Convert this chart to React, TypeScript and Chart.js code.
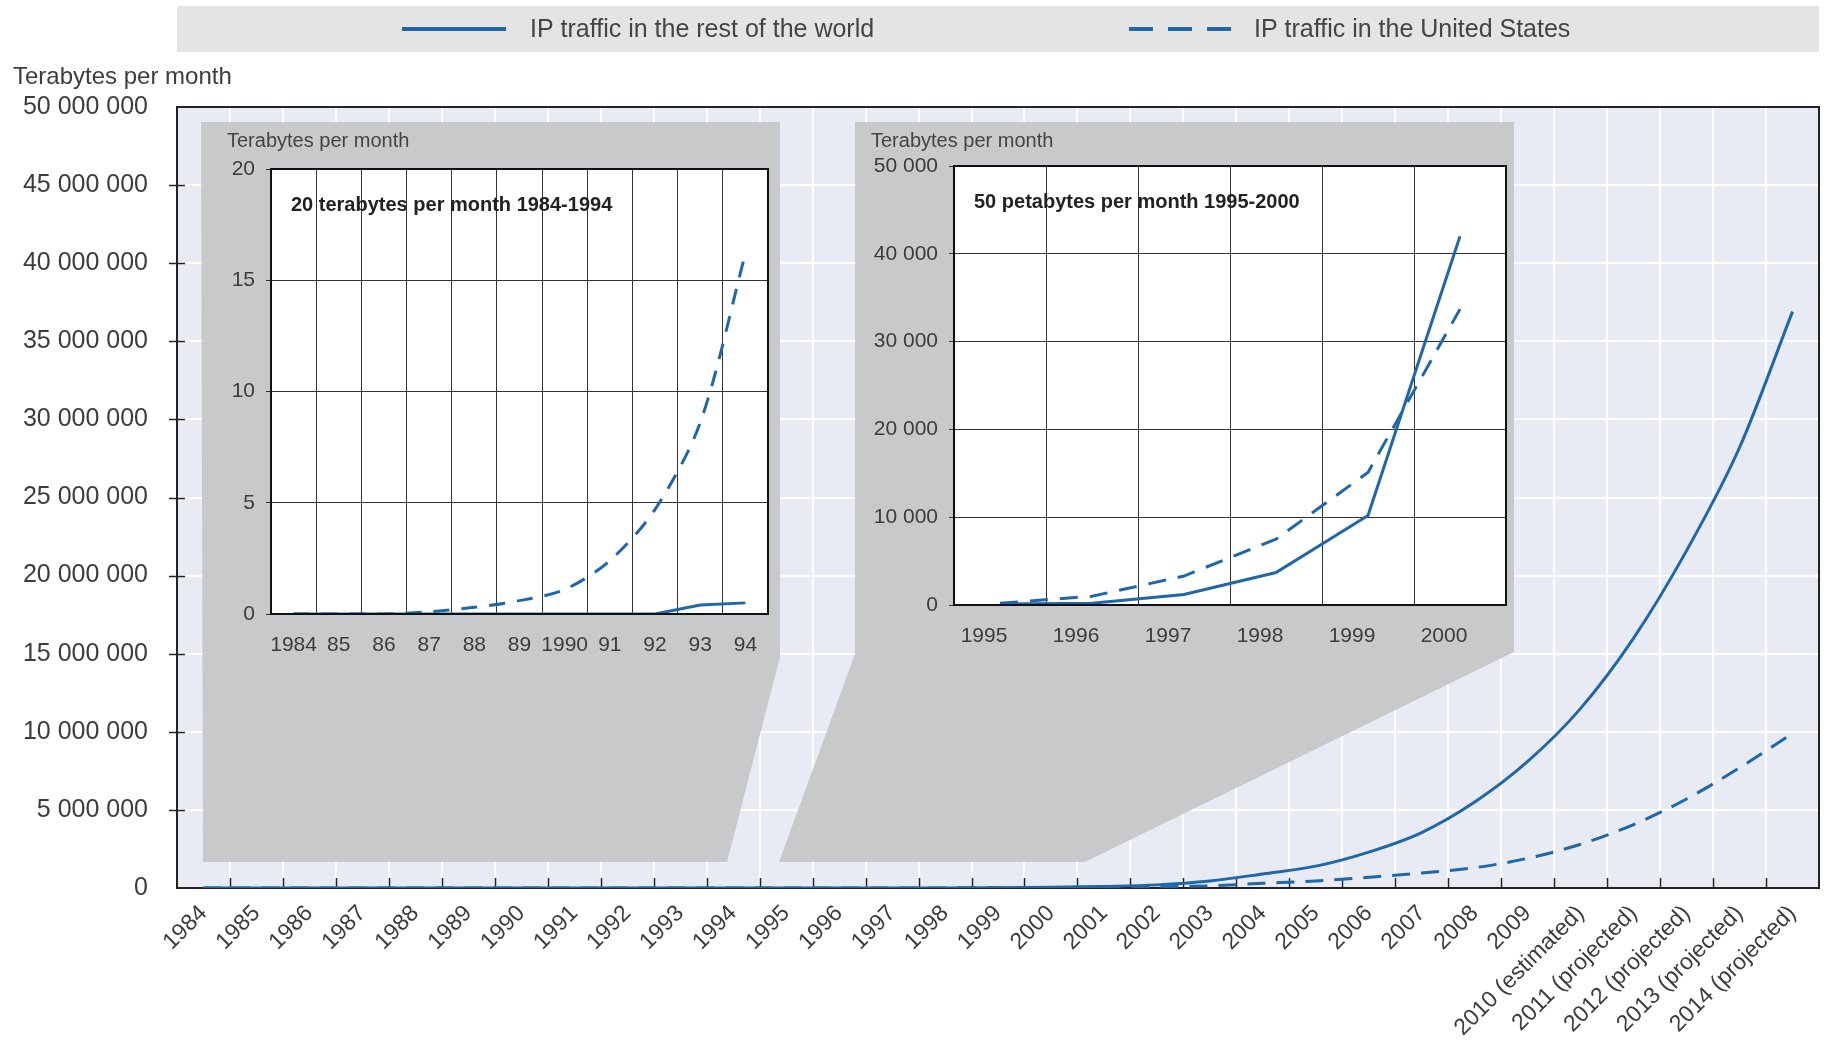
import React, { useEffect, useRef } from "react";
import { Chart, registerables } from "chart.js";

Chart.register(...registerables);

// ---------- Data (terabytes per month) ----------
const years = [
  "1984", "1985", "1986", "1987", "1988", "1989", "1990", "1991", "1992", "1993",
  "1994", "1995", "1996", "1997", "1998", "1999", "2000", "2001", "2002", "2003",
  "2004", "2005", "2006", "2007", "2008", "2009", "2010 (estimated)", "2011 (projected)",
  "2012 (projected)", "2013 (projected)", "2014 (projected)",
];
const restOfWorld = [
  0, 0, 0, 0, 0, 0, 0, 0, 0, 0.4,
  0.5, 100, 200, 1200, 3700, 10200, 42000, 100000, 200000, 450000,
  900000, 1400000, 2300000, 3550000, 5500000, 8100000, 11500000, 16000000,
  21600000, 28200000, 36900000,
];
const unitedStates = [
  0, 0, 0, 0.1, 0.3, 0.6, 1.1, 2.4, 4.7, 8.6,
  16.2, 200, 1000, 3300, 7500, 15100, 33700, 50000, 80000, 140000,
  300000, 450000, 690000, 960000, 1300000, 1900000, 2800000, 4060000,
  5700000, 7700000, 9900000,
];
const mainMax = 50000000;
const mainStep = 5000000;

const inset1Labels = ["1984", "85", "86", "87", "88", "89", "1990", "91", "92", "93", "94"];
const inset1Rest = [0, 0, 0, 0, 0, 0, 0, 0, 0, 0.4, 0.5];
const inset1US = [0, 0, 0, 0.1, 0.3, 0.6, 1.1, 2.4, 4.7, 8.6, 16.2];
const inset1Max = 20;
const inset1Step = 5;

const inset2Labels = ["1995", "1996", "1997", "1998", "1999", "2000"];
const inset2Rest = [100, 200, 1200, 3700, 10200, 42000];
const inset2US = [200, 1000, 3300, 7500, 15100, 33700];
const inset2Max = 50000;
const inset2Step = 10000;

const seriesNames = ["IP traffic in the rest of the world", "IP traffic in the United States"];
const axisTitle = "Terabytes per month";
const inset1Title = "20 terabytes per month 1984-1994";
const inset2Title = "50 petabytes per month 1995-2000";

// ---------- Styles ----------
const LINE = "#1f67a8";
const TEXT = "#3c3c3c";
const FONT = "'Liberation Sans', Arial, sans-serif";
const fmt = (v: number) => String(Math.round(v)).replace(/\B(?=(\d{3})+(?!\d))/g, " ");

// decorative zoom funnels (page pixels)
const funnel1 = [[201, 122], [780, 122], [780, 657], [727, 862], [203, 862]];
const funnel2 = [[855, 122], [1514, 122], [1514, 652], [1085, 862], [779, 862], [855, 654]];

const mainDecor = {
  id: "mainDecor",
  beforeDraw(chart: any) {
    const { ctx, chartArea: a } = chart;
    ctx.save();
    ctx.fillStyle = "#ffffff";
    ctx.fillRect(0, 0, chart.width, chart.height);
    ctx.fillStyle = "#e8ebf4";
    ctx.fillRect(a.left, a.top, a.right - a.left, a.bottom - a.top);
    // legend band
    ctx.fillStyle = "#e4e4e4";
    ctx.fillRect(a.left, 6, a.right - a.left, 46);
    const ds = chart.data.datasets;
    const items = [
      { x0: 402, x1: 506, tx: 530, dash: [] as number[] },
      { x0: 1129, x1: 1231, tx: 1254, dash: [24, 15] },
    ];
    items.forEach((it, i) => {
      ctx.strokeStyle = ds[i].borderColor;
      ctx.lineWidth = 4;
      ctx.setLineDash(it.dash);
      ctx.beginPath();
      ctx.moveTo(it.x0, 29);
      ctx.lineTo(it.x1, 29);
      ctx.stroke();
      ctx.setLineDash([]);
      ctx.fillStyle = "#444";
      ctx.font = `25px ${FONT}`;
      ctx.textBaseline = "middle";
      ctx.textAlign = "left";
      ctx.fillText(ds[i].label, it.tx, 30);
    });
    // axis title
    ctx.fillStyle = TEXT;
    ctx.font = `24px ${FONT}`;
    ctx.fillText(axisTitle, 13, 77);
    ctx.restore();
  },
  beforeDatasetsDraw(chart: any) {
    const { ctx, chartArea: a, scales } = chart;
    ctx.save();
    ctx.fillStyle = "#c7c9cb";
    [funnel1, funnel2].forEach((poly) => {
      ctx.beginPath();
      poly.forEach(([x, y], i) => (i ? ctx.lineTo(x, y) : ctx.moveTo(x, y)));
      ctx.closePath();
      ctx.fill();
    });
    // frame
    ctx.strokeStyle = "#222";
    ctx.lineWidth = 2;
    ctx.strokeRect(a.left, a.top, a.right - a.left, a.bottom - a.top);
    // x ticks at category boundaries (pointing up)
    const xs = scales.x;
    const w = xs.getPixelForValue(1) - xs.getPixelForValue(0);
    ctx.lineWidth = 1.5;
    for (let i = 0; i < years.length - 1; i++) {
      const px = Math.round(xs.getPixelForValue(i) + w / 2) + 0.5;
      ctx.beginPath();
      ctx.moveTo(px, a.bottom);
      ctx.lineTo(px, a.bottom - 10);
      ctx.stroke();
    }
    // y ticks crossing axis
    const ys = scales.y;
    for (let v = mainStep; v < mainMax; v += mainStep) {
      const py = Math.round(ys.getPixelForValue(v)) + 0.5;
      ctx.beginPath();
      ctx.moveTo(a.left - 8, py);
      ctx.lineTo(a.left + 8, py);
      ctx.stroke();
    }
    ctx.restore();
  },
};

function mainConfig(): any {
  return {
    type: "line",
    data: {
      labels: years,
      datasets: [
        {
          label: seriesNames[0],
          data: restOfWorld,
          borderColor: LINE,
          borderWidth: 3,
          pointRadius: 0,
          cubicInterpolationMode: "monotone",
          fill: false,
        },
        {
          label: seriesNames[1],
          data: unitedStates,
          borderColor: LINE,
          borderWidth: 3,
          borderDash: [18, 11],
          pointRadius: 0,
          cubicInterpolationMode: "monotone",
          fill: false,
        },
      ],
    },
    options: {
      responsive: false,
      animation: false,
      devicePixelRatio: 1,
      layout: { padding: { top: 107, right: 6, left: 0, bottom: 0 } },
      plugins: { legend: { display: false }, tooltip: { enabled: false } },
      scales: {
        x: {
          type: "category",
          offset: true,
          grid: { offset: true, color: "#ffffff", lineWidth: 2, drawTicks: false },
          border: { display: false },
          ticks: {
            autoSkip: false,
            minRotation: 45,
            maxRotation: 45,
            padding: 12,
            color: TEXT,
            font: { family: FONT, size: 23 },
          },
          afterFit: (s: any) => {
            s.height = 164;
          },
        },
        y: {
          min: 0,
          max: mainMax,
          grid: { color: "#ffffff", lineWidth: 2, drawTicks: false },
          border: { display: false },
          ticks: {
            stepSize: mainStep,
            padding: 29,
            color: TEXT,
            font: { family: FONT, size: 25 },
            callback: (v: any) => fmt(Number(v)),
          },
          afterFit: (s: any) => {
            s.width = 177;
          },
        },
      },
    },
    plugins: [mainDecor],
  };
}

function insetConfig(p: {
  labels: string[];
  rest: number[];
  us: number[];
  max: number;
  step: number;
  yWidth: number;
  xHeight: number;
  padTop: number;
  padRight: number;
  title: string;
  subtitle: string;
  titleX: number;
  labelOffset: number;
  tension: number;
  dash: number[];
}): any {
  const deco = {
    id: "insetDeco",
    beforeDraw(chart: any) {
      const { ctx, chartArea: a } = chart;
      ctx.save();
      ctx.fillStyle = "#ffffff";
      ctx.fillRect(a.left, a.top, a.right - a.left, a.bottom - a.top);
      ctx.restore();
    },
    afterDraw(chart: any) {
      const { ctx, chartArea: a } = chart;
      ctx.save();
      ctx.strokeStyle = "#111";
      ctx.lineWidth = 2;
      ctx.strokeRect(a.left, a.top, a.right - a.left, a.bottom - a.top);
      ctx.fillStyle = "#444";
      ctx.font = `20px ${FONT}`;
      ctx.textBaseline = "middle";
      ctx.textAlign = "left";
      ctx.fillText(p.title, p.titleX, 19);
      ctx.fillStyle = "#222";
      ctx.font = `bold 20px ${FONT}`;
      ctx.fillText(p.subtitle, a.left + 20, a.top + 36);
      ctx.restore();
    },
  };
  return {
    type: "line",
    data: {
      labels: p.labels,
      datasets: [
        {
          label: seriesNames[0],
          data: p.rest,
          borderColor: LINE,
          borderWidth: 3,
          pointRadius: 0,
          tension: 0,
        },
        {
          label: seriesNames[1],
          data: p.us,
          borderColor: LINE,
          borderWidth: 3,
          borderDash: p.dash,
          pointRadius: 0,
          tension: p.tension,
        },
      ],
    },
    options: {
      responsive: false,
      animation: false,
      devicePixelRatio: 1,
      layout: { padding: { top: p.padTop, right: p.padRight, left: 0, bottom: 0 } },
      plugins: { legend: { display: false }, tooltip: { enabled: false } },
      scales: {
        x: {
          type: "category",
          offset: true,
          grid: { offset: true, color: "#333", lineWidth: 1, drawTicks: false },
          border: { display: false },
          ticks: {
            autoSkip: false,
            maxRotation: 0,
            padding: 19,
            labelOffset: p.labelOffset,
            color: TEXT,
            font: { family: FONT, size: 21 },
          },
          afterFit: (s: any) => {
            s.height = p.xHeight;
          },
        },
        y: {
          min: 0,
          max: p.max,
          grid: { color: "#333", lineWidth: 1, tickLength: 5 },
          border: { display: false },
          ticks: {
            stepSize: p.step,
            padding: 11,
            color: TEXT,
            font: { family: FONT, size: 21 },
            callback: (v: any) => fmt(Number(v)),
          },
          afterFit: (s: any) => {
            s.width = p.yWidth;
          },
        },
      },
    },
    plugins: [deco],
  };
}

export default function App() {
  const mainRef = useRef<HTMLCanvasElement>(null);
  const in1Ref = useRef<HTMLCanvasElement>(null);
  const in2Ref = useRef<HTMLCanvasElement>(null);

  useEffect(() => {
    const charts: Chart[] = [];
    charts.push(new Chart(mainRef.current as HTMLCanvasElement, mainConfig()));
    charts.push(
      new Chart(
        in1Ref.current as HTMLCanvasElement,
        insetConfig({
          labels: inset1Labels,
          rest: inset1Rest,
          us: inset1US,
          max: inset1Max,
          step: inset1Step,
          yWidth: 68,
          xHeight: 43,
          padTop: 47,
          padRight: 12,
          title: axisTitle,
          subtitle: inset1Title,
          titleX: 24,
          labelOffset: 0,
          tension: 0.3,
          dash: [16, 12],
        })
      )
    );
    charts.push(
      new Chart(
        in2Ref.current as HTMLCanvasElement,
        insetConfig({
          labels: inset2Labels,
          rest: inset2Rest,
          us: inset2US,
          max: inset2Max,
          step: inset2Step,
          yWidth: 99,
          xHeight: 49,
          padTop: 44,
          padRight: 8,
          title: axisTitle,
          subtitle: inset2Title,
          titleX: 16,
          labelOffset: -16,
          tension: 0,
          dash: [18, 12],
        })
      )
    );
    return () => charts.forEach((c) => c.destroy());
  }, []);

  return (
    <div style={{ position: "fixed", left: 0, top: 0, width: 1825, height: 1052, background: "#fff" }}>
      <canvas ref={mainRef} width={1825} height={1052} style={{ position: "absolute", left: 0, top: 0 }} />
      <canvas ref={in1Ref} width={577} height={535} style={{ position: "absolute", left: 203, top: 122 }} />
      <canvas ref={in2Ref} width={659} height={532} style={{ position: "absolute", left: 855, top: 122 }} />
    </div>
  );
}
